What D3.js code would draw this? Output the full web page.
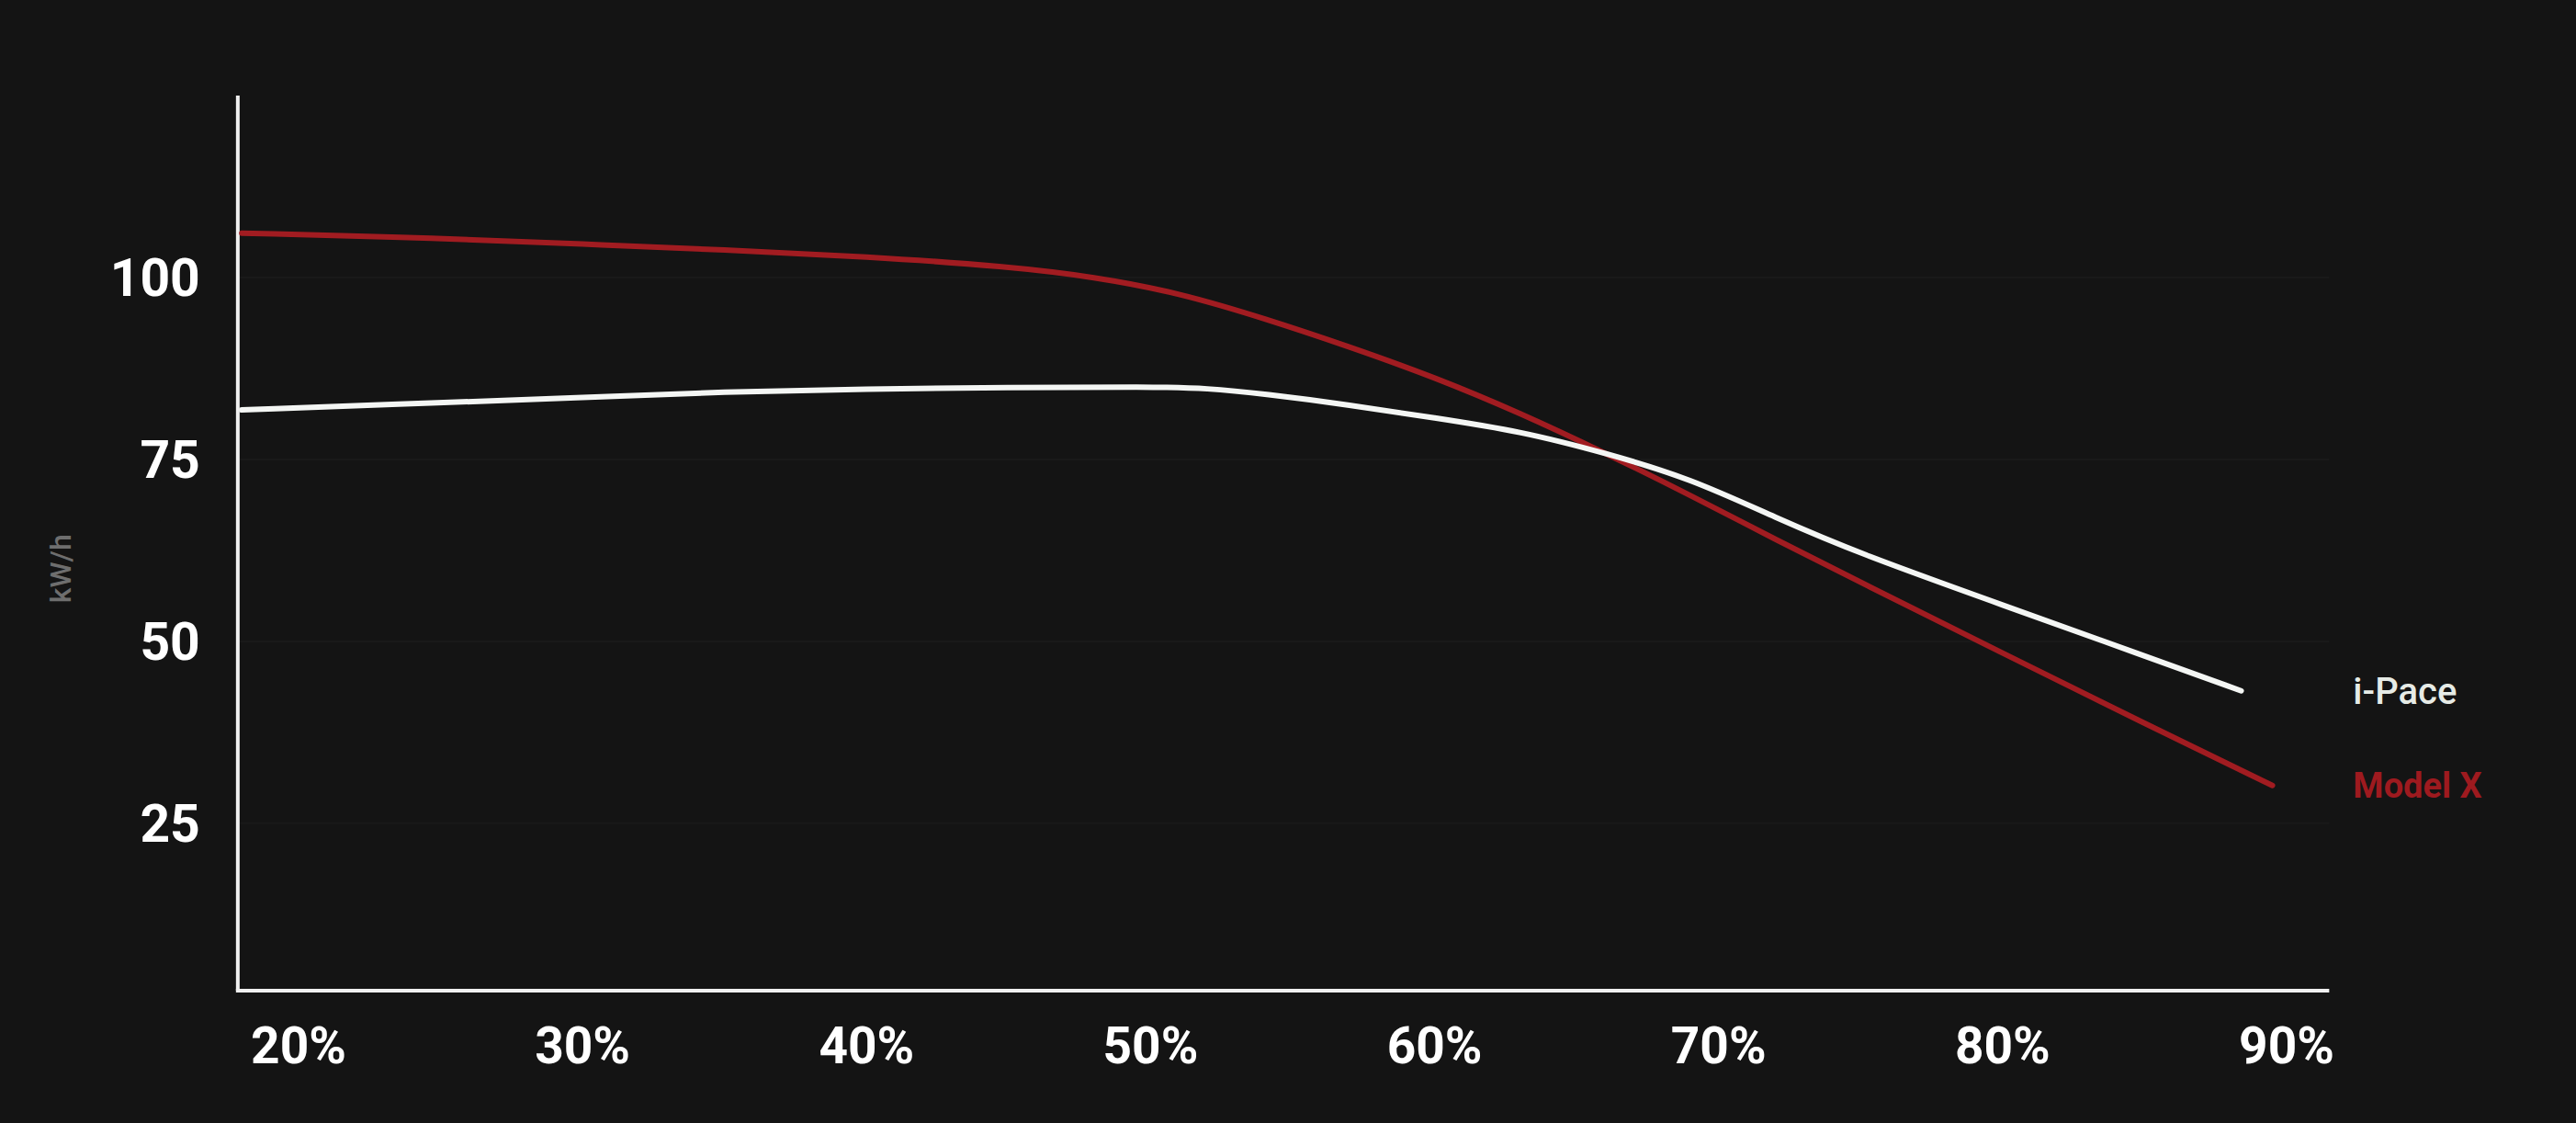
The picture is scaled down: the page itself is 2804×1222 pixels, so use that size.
<!DOCTYPE html>
<html>
<head>
<meta charset="utf-8">
<script src="https://cdn.jsdelivr.net/npm/d3@7"></script>
<style>
  html, body { margin: 0; padding: 0; background: #141414; }
  svg { display: block; }
</style>
</head>
<body>
<svg id="chart" width="2804" height="1222"></svg>
<script>
// ---- data ----
const xTickValues = [20, 30, 40, 50, 60, 70, 80, 90];
const xTickLabels = ["20%", "30%", "40%", "50%", "60%", "70%", "80%", "90%"];
const yTickValues = [25, 50, 75, 100];
const yTickLabels = ["25", "50", "75", "100"];
const yAxisTitle = "kW/h";

const iPaceSoc = [18, 25, 30, 35, 40, 45, 50, 52, 54, 57, 60, 63, 66, 69, 72, 75, 80, 85, 88.4];
const iPaceKw  = [81.8, 82.8, 83.5, 84.3, 84.7, 84.9, 85.0, 84.8, 84.0, 82.5, 80.7, 78.9, 75.9, 72.4, 67.0, 62.0, 55.0, 48.0, 43.2];

const modelXSoc = [18, 25, 30, 35, 40, 45, 48, 51, 54, 57, 60, 63, 66, 69, 72, 75, 80, 85, 89.5];
const modelXKw  = [106.1, 105.4, 104.6, 103.8, 102.9, 101.5, 100.1, 97.9, 94.4, 90.5, 86.3, 81.4, 75.9, 70.1, 64.0, 58.1, 48.4, 38.7, 30.2];

const seriesNames = ["i-Pace", "Model X"];
const seriesColors = ["#f4f6f4", "#a11c21"];

// ---- layout ----
const svg = d3.select("#chart");
const x = d3.scaleLinear().domain([20, 90]).range([325, 2489]);
const y = d3.scaleLinear().domain([2, 125]).range([1078, 104]);
const xAxisStart = 17.86, xAxisEnd = 91.5;

// faint gridlines
svg.append("g").selectAll("line").data(yTickValues).join("line")
  .attr("x1", x(xAxisStart)).attr("x2", x(xAxisEnd))
  .attr("y1", d => y(d)).attr("y2", d => y(d))
  .attr("stroke", "#191919").attr("stroke-width", 2);

// axis lines
const axisColor = "#f0f0f0";
svg.append("line")
  .attr("x1", x(xAxisStart)).attr("x2", x(xAxisStart))
  .attr("y1", y(125)).attr("y2", y(2))
  .attr("stroke", axisColor).attr("stroke-width", 4);
svg.append("line")
  .attr("x1", x(xAxisStart) - 2).attr("x2", x(xAxisEnd))
  .attr("y1", y(2)).attr("y2", y(2))
  .attr("stroke", axisColor).attr("stroke-width", 4);

const fontFam = "Roboto, 'Noto Sans', sans-serif";

// y tick labels
svg.append("g").selectAll("text").data(yTickValues).join("text")
  .attr("x", x(xAxisStart) - 41)
  .attr("y", d => y(d))
  .attr("dy", "0.36em")
  .attr("text-anchor", "end")
  .attr("fill", "#ffffff")
  .attr("font-family", fontFam)
  .attr("font-weight", 700)
  .attr("font-size", 57)
  .text((d, i) => yTickLabels[i]);

// x tick labels
svg.append("g").selectAll("text").data(xTickValues).join("text")
  .attr("x", d => x(d))
  .attr("y", y(2) + 59)
  .attr("dy", "0.36em")
  .attr("text-anchor", "middle")
  .attr("fill", "#ffffff")
  .attr("font-family", fontFam)
  .attr("font-weight", 700)
  .attr("font-size", 55)
  .text((d, i) => xTickLabels[i]);

// y axis title
svg.append("text")
  .attr("transform", `translate(${x(xAxisStart) - 193},${y(60)}) rotate(-90)`)
  .attr("text-anchor", "middle")
  .attr("dy", "0.35em")
  .attr("fill", "#6e6e6e")
  .attr("font-family", fontFam)
  .attr("font-weight", 500)
  .attr("font-size", 32)
  .text(yAxisTitle);

// lines
const line = d3.line().x(d => x(d[0])).y(d => y(d[1])).curve(d3.curveBasis);
const modelXData = d3.zip(modelXSoc, modelXKw);
const iPaceData = d3.zip(iPaceSoc, iPaceKw);

svg.append("path").datum(modelXData)
  .attr("d", line).attr("fill", "none")
  .attr("stroke", seriesColors[1]).attr("stroke-width", 6)
  .attr("stroke-linecap", "round");
svg.append("path").datum(iPaceData)
  .attr("d", line).attr("fill", "none")
  .attr("stroke", seriesColors[0]).attr("stroke-width", 6)
  .attr("stroke-linecap", "round");

// series labels
const labelX = x(xAxisEnd) + 26;
svg.append("text")
  .attr("x", labelX).attr("y", y(iPaceKw[iPaceKw.length - 1]))
  .attr("dy", "0.36em")
  .attr("fill", "#e6ebe6")
  .attr("font-family", fontFam)
  .attr("font-weight", 500)
  .attr("font-size", 40)
  .text(seriesNames[0]);
svg.append("text")
  .attr("x", labelX).attr("y", y(modelXKw[modelXKw.length - 1]))
  .attr("dy", "0.36em")
  .attr("fill", "#9e1a1f")
  .attr("font-family", fontFam)
  .attr("font-weight", 700)
  .attr("font-size", 38)
  .text(seriesNames[1]);
</script>
</body>
</html>
